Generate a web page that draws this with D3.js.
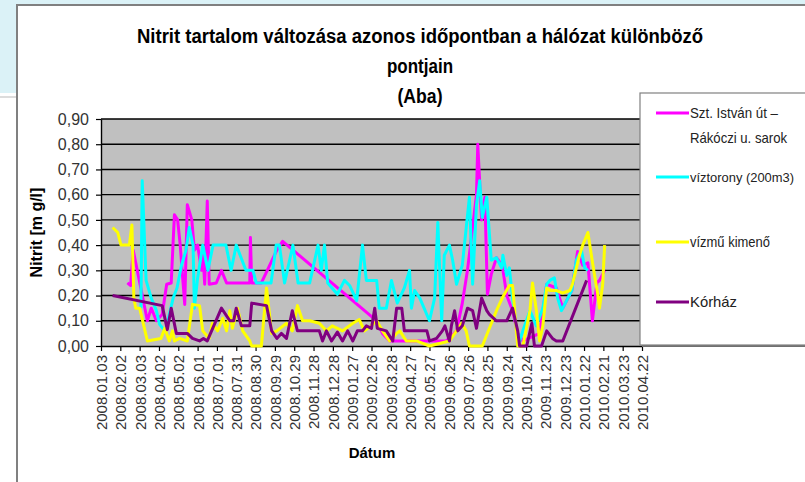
<!DOCTYPE html>
<html>
<head>
<meta charset="utf-8">
<script src="https://cdn.jsdelivr.net/npm/d3@7"></script>
<style>
  body { margin: 0; background: #fff; }
  svg { display: block; font-family: "Liberation Sans", Arial, sans-serif; }
</style>
</head>
<body>
<div id="chart"></div>
<script>
// ============================================================================
// Nitrit tartalom (Aba) - line chart, 4 measuring points
// ============================================================================

// ---- data ------------------------------------------------------------------
const titleLines = ["Nitrit tartalom változása azonos időpontban a hálózat különböző", "pontjain", "(Aba)"]
const yTicks = [0, 0.1, 0.2, 0.3, 0.4, 0.5, 0.6, 0.7, 0.8, 0.9]
const xTickLabels = ["2008.01.03","2008.02.02","2008.03.03","2008.04.02","2008.05.02","2008.06.01","2008.07.01","2008.07.31",
  "2008.08.30","2008.09.29","2008.10.29","2008.11.28","2008.12.28","2009.01.27","2009.02.26","2009.03.28","2009.04.27",
  "2009.05.27","2009.06.26","2009.07.26","2009.08.25","2009.09.24","2009.10.24","2009.11.23","2009.12.23","2010.01.22",
  "2010.02.21","2010.03.23","2010.04.22"]

const seriesNames = [["Szt. István út –", "Rákóczi u. sarok"], ["víztorony (200m3)"], ["vízmű kimenő"], ["Kórház"]]

// Szt. István út – Rákóczi u. sarok
const sztDates = ["2008.02.13","2008.02.18","2008.02.22","2008.03.15","2008.03.21","2008.03.29","2008.04.07","2008.04.14",
  "2008.04.21","2008.04.26","2008.05.01","2008.05.05","2008.05.12","2008.05.16","2008.05.23","2008.05.27","2008.06.01",
  "2008.06.07","2008.06.09","2008.06.12","2008.06.16","2008.06.19","2008.06.30","2008.07.08","2008.07.16","2008.07.25",
  "2008.08.21","2008.08.22","2008.08.24","2008.09.08","2008.10.02","2008.10.11","2009.03.06","2009.03.15","2009.03.26",
  "2009.05.27","2009.06.22","2009.07.08","2009.07.17","2009.07.25","2009.08.02","2009.08.08","2009.08.10","2009.08.16",
  "2009.08.21","2009.08.25","2009.08.31","2009.09.08","2009.09.17","2009.09.24","2009.10.03","2009.10.11","2009.10.19",
  "2009.11.14","2009.11.25","2009.12.10","2009.12.20","2010.01.03","2010.01.12","2010.01.20","2010.01.28","2010.02.04",
  "2010.02.11","2010.02.15","2010.02.23"]
const sztValues = [0.25,0.24,0.38,0.10,0.15,0.10,0.125,0.245,0.25,0.52,0.50,0.40,0.165,0.56,0.50,0.38,0.40,0.30,0.38,0.245,
  0.575,0.245,0.25,0.30,0.25,0.25,0.25,0.43,0.25,0.25,0.38,0.415,0.10,0.05,0.02,0.02,0.02,0.06,0.17,0.30,0.47,0.60,0.80,
  0.50,0.59,0.205,0.285,0.35,0.32,0.20,0.14,0.05,0.02,0.05,0.245,0.23,0.15,0.22,0.375,0.32,0.33,0.10,0.25,0.26,0.30]

// víztorony (200m3)
const vizDates = ["2008.03.05","2008.03.07","2008.03.13","2008.03.21","2008.03.29","2008.04.03","2008.04.11","2008.04.13",
  "2008.04.24","2008.04.30","2008.05.07","2008.05.14","2008.05.19","2008.05.25","2008.05.27","2008.06.01","2008.06.09",
  "2008.06.17","2008.06.25","2008.07.15","2008.07.23","2008.07.31","2008.08.15","2008.08.26","2008.08.31","2008.09.23",
  "2008.10.01","2008.10.06","2008.10.14","2008.10.27","2008.11.04","2008.11.22","2008.12.05","2008.12.10","2008.12.15",
  "2008.12.20","2009.01.04","2009.01.15","2009.01.23","2009.02.03","2009.02.12","2009.02.18","2009.03.06","2009.03.10",
  "2009.03.21","2009.03.29","2009.04.07","2009.04.18","2009.04.26","2009.04.29","2009.05.04","2009.05.12","2009.05.27",
  "2009.06.04","2009.06.09","2009.06.15","2009.06.19","2009.06.27","2009.07.02","2009.07.08","2009.07.17","2009.07.28",
  "2009.08.02","2009.08.08","2009.08.13","2009.08.17","2009.08.24","2009.08.31","2009.09.08","2009.09.16","2009.09.18",
  "2009.09.24","2009.09.28","2009.10.03","2009.10.09","2009.10.14","2009.10.19","2009.10.30","2009.11.09","2009.11.19",
  "2009.11.25","2009.11.30","2009.12.07","2009.12.12","2009.12.18","2009.12.26","2010.01.03","2010.01.10","2010.01.18",
  "2010.01.23","2010.01.28"]
const vizValues = [0.15,0.655,0.26,0.19,0.14,0.086,0.06,0.07,0.19,0.23,0.32,0.38,0.47,0.40,0.15,0.27,0.40,0.30,0.40,0.40,
  0.30,0.40,0.30,0.30,0.25,0.25,0.40,0.40,0.25,0.40,0.25,0.25,0.40,0.30,0.40,0.25,0.205,0.26,0.24,0.18,0.40,0.26,0.26,
  0.15,0.15,0.26,0.17,0.23,0.30,0.15,0.22,0.19,0.10,0.19,0.49,0.10,0.36,0.40,0.34,0.245,0.32,0.59,0.245,0.56,0.655,0.51,
  0.59,0.34,0.35,0.31,0.36,0.28,0.31,0.19,0.07,0.02,0.06,0.14,0.08,0.15,0.245,0.26,0.27,0.19,0.14,0.18,0.22,0.34,0.38,
  0.31,0.30]

// vízmű kimenő
const kimDates = ["2008.01.21","2008.01.29","2008.02.03","2008.02.11","2008.02.16","2008.02.20","2008.02.23","2008.02.26",
  "2008.03.03","2008.03.15","2008.04.05","2008.04.11","2008.04.18","2008.04.23","2008.04.26","2008.05.04","2008.05.16",
  "2008.05.24","2008.06.04","2008.06.09","2008.06.19","2008.06.24","2008.07.02","2008.07.10","2008.07.16","2008.07.21",
  "2008.07.25","2008.08.02","2008.08.10","2008.08.21","2008.08.24","2008.09.08","2008.09.16","2008.09.24","2008.10.02",
  "2008.10.17","2008.10.26","2008.11.03","2008.11.11","2008.11.22","2008.12.07","2008.12.18","2008.12.27","2009.01.12",
  "2009.01.28","2009.02.07","2009.02.15","2009.02.23","2009.03.06","2009.03.15","2009.03.26","2009.04.06","2009.04.11",
  "2009.04.21","2009.04.29","2009.05.07","2009.05.27","2009.06.27","2009.07.08","2009.07.16","2009.07.23","2009.07.28",
  "2009.08.17","2009.09.08","2009.09.17","2009.09.28","2009.10.03","2009.10.11","2009.10.19","2009.10.30","2009.11.03",
  "2009.11.09","2009.11.14","2009.11.19","2009.11.25","2009.11.30","2009.12.10","2009.12.20","2009.12.31","2010.01.04",
  "2010.01.15","2010.01.20","2010.01.28","2010.02.03","2010.02.08","2010.02.12","2010.02.15","2010.02.20","2010.02.23"]
const kimValues = [0.47,0.45,0.40,0.40,0.40,0.48,0.19,0.15,0.15,0.02,0.03,0.07,0.02,0.06,0.02,0.03,0.02,0.165,0.16,0.06,
  0.03,0.09,0.06,0.11,0.06,0.14,0.07,0.15,0.06,0.02,0,0,0.23,0.05,0.06,0.09,0.06,0.16,0.10,0.10,0.09,0.06,0.08,0.06,0.09,
  0.105,0.06,0.075,0.10,0.06,0.02,0.05,0.06,0.02,0.02,0.02,0,0.02,0.06,0.09,0.06,0,0,0.14,0.19,0.24,0.24,0,0,0.14,0.25,
  0.14,0.02,0.08,0.23,0.22,0.22,0.21,0.22,0.245,0.36,0.40,0.45,0.35,0.27,0.21,0.15,0.245,0.40]

// Kórház
const korDates = ["2008.01.21","2008.04.07","2008.04.15","2008.04.21","2008.04.29","2008.05.16","2008.05.24","2008.06.04",
  "2008.06.10","2008.06.16","2008.07.08","2008.07.21","2008.07.27","2008.07.31","2008.08.08","2008.08.21","2008.08.24",
  "2008.09.16","2008.09.24","2008.10.02","2008.10.09","2008.10.17","2008.10.26","2008.11.03","2008.12.07","2008.12.12",
  "2008.12.18","2008.12.26","2009.01.04","2009.01.12","2009.01.20","2009.01.28","2009.02.04","2009.02.12","2009.02.18",
  "2009.02.26","2009.03.03","2009.03.07","2009.03.21","2009.03.31","2009.04.06","2009.04.14","2009.04.18","2009.05.23",
  "2009.05.27","2009.06.07","2009.06.16","2009.06.20","2009.06.27","2009.06.30","2009.07.05","2009.07.10","2009.07.17",
  "2009.07.25","2009.08.02","2009.08.08","2009.08.16","2009.08.24","2009.08.28","2009.09.08","2009.09.24","2009.10.03",
  "2009.10.11","2009.10.14","2009.10.25","2009.11.02","2009.11.06","2009.11.17","2009.11.25","2009.12.04","2009.12.10",
  "2009.12.20","2010.01.26"]
const korValues = [0.20,0.16,0.065,0.15,0.05,0.05,0.03,0.02,0.03,0.02,0.15,0.10,0.10,0.15,0.08,0.08,0.17,0.16,0.06,0.03,
  0.05,0.03,0.14,0.06,0.06,0.02,0.06,0.02,0.055,0.02,0.06,0.02,0.06,0.06,0.08,0.07,0.15,0.07,0.06,0.02,0.15,0.15,0.06,
  0.06,0.02,0.03,0.06,0.08,0.02,0.08,0.14,0.06,0.08,0.15,0.14,0.07,0.19,0.14,0.125,0.10,0.10,0.15,0.06,0,0,0.09,0,0,
  0.06,0.03,0.02,0.02,0.26]

// ---- configuration ---------------------------------------------------------
const CONFIG = {
  width: 805,
  height: 482,
  plot: { left: 101, right: 642, top: 119, bottom: 346 },
  colors: {
    slide: "#dbf2f7",
    frame: "#808080",
    plotBg: "#c0c0c0",
    grid: "#000000",
    text: "#333333",
    series: ["#ff00ff", "#00ffff", "#ffff00", "#800080"]
  }
}

const parseDate = d3.utcParse("%Y.%m.%d")

function buildSeries() {
  const raw = [[sztDates, sztValues], [vizDates, vizValues], [kimDates, kimValues], [korDates, korValues]]
  return raw.map(([dates, values], i) => ({
    name: seriesNames[i],
    color: CONFIG.colors.series[i],
    points: d3.range(Math.min(dates.length, values.length))
      .map(j => ({ date: parseDate(dates[j]), value: values[j] }))
  }))
}

function drawChart() {
  const { plot, colors } = CONFIG
  const series = buildSeries()

  const svg = d3.select("#chart").append("svg")
    .attr("width", CONFIG.width)
    .attr("height", CONFIG.height)

  // slide background and chart frame
  svg.append("rect").attr("width", CONFIG.width).attr("height", CONFIG.height).attr("fill", "#fff")
  svg.append("rect").attr("width", CONFIG.width).attr("height", 6).attr("fill", colors.slide)
  svg.append("rect").attr("width", 18).attr("height", 93).attr("fill", colors.slide)
  svg.append("line").attr("x1", 0).attr("x2", 17).attr("y1", 97).attr("y2", 97)
    .attr("stroke", "#d0d0d0").attr("stroke-width", 1.5)
  svg.append("rect")
    .attr("x", 17).attr("y", 5).attr("width", 820).attr("height", 500)
    .attr("fill", "#fff").attr("stroke", colors.frame).attr("stroke-width", 2)

  // title
  const titleWidths = [566, 66, 45]
  svg.append("g").selectAll("text")
    .data(titleLines)
    .join("text")
    .attr("x", 420)
    .attr("y", (d, i) => 43 + i * 30)
    .attr("text-anchor", "middle")
    .attr("textLength", (d, i) => titleWidths[i])
    .attr("lengthAdjust", "spacingAndGlyphs")
    .style("font-size", "20px")
    .style("font-weight", "bold")
    .attr("fill", "#000")
    .text(d => d)

  // scales
  const x = d3.scaleUtc()
    .domain([parseDate(xTickLabels[0]), parseDate(xTickLabels[xTickLabels.length - 1])])
    .range([plot.left, plot.right])
  const y = d3.scaleLinear()
    .domain([0, 0.9])
    .range([plot.bottom, plot.top])

  // plot area + gridlines
  svg.append("rect")
    .attr("x", plot.left).attr("y", plot.top)
    .attr("width", plot.right - plot.left).attr("height", plot.bottom - plot.top)
    .attr("fill", colors.plotBg)
  svg.append("g").selectAll("line")
    .data(yTicks.filter(d => d > 0))
    .join("line")
    .attr("x1", plot.left).attr("x2", plot.right)
    .attr("y1", d => y(d)).attr("y2", d => y(d))
    .attr("stroke", colors.grid).attr("stroke-width", 1.4)

  // axes
  const yAxis = svg.append("g")
    .attr("transform", `translate(${plot.left},0)`)
    .call(d3.axisLeft(y).tickValues(yTicks).tickSize(5).tickSizeOuter(0).tickPadding(7)
      .tickFormat(d => d.toFixed(2).replace(".", ",")))
  yAxis.select(".domain").attr("stroke", "#000").attr("stroke-width", 1.4)
  yAxis.selectAll(".tick line").attr("stroke", "#000").attr("stroke-width", 1.2)
  yAxis.selectAll("text").attr("fill", colors.text).style("font-size", "16px").style("font-family", null)

  const xAxis = svg.append("g")
    .attr("transform", `translate(0,${plot.bottom})`)
    .call(d3.axisBottom(x).tickValues(xTickLabels.map(parseDate)).tickSize(5).tickSizeOuter(0)
      .tickFormat(d3.utcFormat("%Y.%m.%d")))
  xAxis.select(".domain").attr("stroke", "#000").attr("stroke-width", 1.4)
  xAxis.selectAll(".tick line").attr("stroke", "#000").attr("stroke-width", 1.2)
  xAxis.selectAll("text")
    .attr("transform", "rotate(-90)")
    .attr("x", -9)
    .attr("y", 0)
    .attr("dy", "0.36em")
    .style("text-anchor", "end")
    .attr("fill", colors.text)
    .style("font-size", "15px")
    .style("font-family", null)

  // axis titles
  svg.append("text")
    .attr("x", 372).attr("y", 458)
    .attr("text-anchor", "middle")
    .style("font-size", "15px").style("font-weight", "bold")
    .text("Dátum")
  svg.append("text")
    .attr("transform", `translate(42,${(plot.top + plot.bottom) / 2}) rotate(-90)`)
    .attr("text-anchor", "middle")
    .style("font-size", "16px").style("font-weight", "bold")
    .text("Nitrit [m g/l]")

  // series lines
  const line = d3.line()
    .x(d => x(d.date))
    .y(d => y(d.value))
  svg.append("g").selectAll("path")
    .data(series)
    .join("path")
    .attr("d", d => line(d.points))
    .attr("fill", "none")
    .attr("stroke", d => d.color)
    .attr("stroke-width", 3)
    .attr("stroke-linejoin", "round")

  drawLegend(svg, series)
}

function drawLegend(svg, series) {
  const box = { x: 640, y: 93, w: 200, h: 252 }
  const rowY = [113, 177, 242, 302]
  const textWidths = [[88, 97], [104], [80], [47]]
  const fontSizes = [14.5, 13, 14.5, 14.5]

  svg.append("rect")
    .attr("x", box.x + 2).attr("y", box.y + 2).attr("width", box.w).attr("height", box.h)
    .attr("fill", "#707070")
  svg.append("rect")
    .attr("x", box.x).attr("y", box.y).attr("width", box.w).attr("height", box.h)
    .attr("fill", "#fff").attr("stroke", "#808080").attr("stroke-width", 1.2)

  const rows = svg.append("g").selectAll("g")
    .data(series)
    .join("g")
    .attr("transform", (d, i) => `translate(0,${rowY[i]})`)
  rows.append("line")
    .attr("x1", 656).attr("x2", 689)
    .attr("stroke", d => d.color).attr("stroke-width", 3)
  rows.each(function (d, i) {
    d3.select(this).selectAll("text")
      .data(d.name)
      .join("text")
      .attr("x", 690)
      .attr("y", (t, k) => k * 25)
      .attr("dy", "0.36em")
      .attr("textLength", (t, k) => textWidths[i][k])
      .attr("lengthAdjust", "spacingAndGlyphs")
      .style("font-size", fontSizes[i] + "px")
      .attr("fill", "#222")
      .text(t => t)
  })
}

document.addEventListener("DOMContentLoaded", drawChart)
</script>
</body>
</html>
